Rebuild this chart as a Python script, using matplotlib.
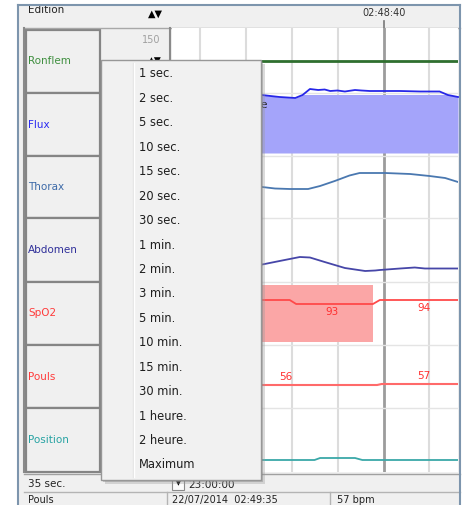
import matplotlib.pyplot as plt
from matplotlib.patches import Rectangle

plt.rcParams['font.family'] = ['DejaVu Sans']

W, H = 463, 505

# Channels
CHANNELS = ['Ronflem', 'Flux', 'Thorax', 'Abdomen', 'SpO2', 'Pouls', 'Position']
LABEL_COLORS = ['#3f8f3f', '#2b2bf2', '#3d6aa8', '#30309a', '#ff3b3b', '#ff3b3b', '#27a3a3']
CHANNEL_YLIM = [(0, 63), (0, 61), (0, 62), (0, 64), (82.75, 98.5), (33, 96), (0, 64)]

MENU_ITEMS = ['1 sec.', '2 sec.', '5 sec.', '10 sec.', '15 sec.', '20 sec.', '30 sec.',
              '1 min.', '2 min.', '3 min.', '5 min.', '10 min.', '15 min.', '30 min.',
              '1 heure.', '2 heure.', 'Maximum']

# time axis: seconds from the left edge of the trace window (02:48:17)
T_WINDOW = 31.1
GRID_T = [3, 8, 13, 18, 23, 28]
CURSOR_T = 23
CURSOR_LABEL = '02:48:40'

# traces
ronflem_t = [0, 31.1]
ronflem_v = [32, 32]

flux_t = [6.0, 9.8, 10.7, 11.7, 13.4, 14.2, 15.0, 15.9, 16.6, 17.2, 18.0, 18.8, 19.9, 20.6,
          21.5, 24.8, 27.0, 29.1, 30.0, 31.1]
flux_v = [61, 61, 60, 59, 58, 61, 67, 66, 66.5, 65, 65.5, 64.5, 66, 65.5, 65, 65, 64.5, 64.5, 61, 59]
FLUX_BASE = 3

thorax_t = [6.0, 9.8, 11.2, 12.8, 14.8, 16.1, 17.7, 19.3, 20.4, 23.2, 25.9, 28.0, 29.7, 31.1]
thorax_v = [31, 31, 29.5, 29, 29, 32, 37, 42.5, 45, 45, 44, 42, 40, 36]

abdomen_t = [6.0, 9.8, 11.7, 13.9, 15.0, 16.6, 18.8, 21.0, 22.1, 22.6, 24.8, 26.4, 27.5, 31.1]
abdomen_v = [16, 17.5, 21, 25, 24.5, 20, 14, 11, 11.5, 12, 13.5, 14.5, 13.5, 13.5]

spo2_t = [6.0, 12.8, 13.5, 21.85, 22.6, 31.1]
spo2_v = [94, 94, 93, 93, 94, 94]
SPO2_EVENT = (6.0, 21.85)
spo2_labels_t = [17.4, 27.4]
spo2_labels = ['93', '94']

pouls_t = [6.0, 22.3, 22.8, 31.1]
pouls_v = [56, 56, 57, 57]
pouls_labels_t = [12.4, 27.4]
pouls_labels = ['56', '57']

position_t = [6.0, 15.5, 16.1, 19.9, 20.7, 31.1]
position_v = [12, 12, 14, 14, 12, 12]

# layout in pixels
ROW_EDGES = [30, 93, 156, 218, 282, 345, 408, 472]
CHART_X0, CHART_X1, CHART_Y0, CHART_Y1 = 172, 458, 28, 472
MENU_BOX = (101, 60, 261, 480)


def px_axes(x0, y0, x1, y1, z):
    ax = fig.add_axes([x0 / W, 1 - y1 / H, (x1 - x0) / W, (y1 - y0) / H], zorder=z)
    ax.set_axis_off()
    return ax


fig = plt.figure(figsize=(W / 100, H / 100), dpi=100)
fig.patch.set_facecolor('white')

# UI chrome
ui = px_axes(0, 0, W, H, 0)
ui.set_xlim(0, W)
ui.set_ylim(H, 0)
ui.add_patch(Rectangle((18, 5), 442, 500, facecolor='#f0f0f0', edgecolor='none'))
ui.text(28, 10, 'Edition', fontsize=7.5, color='#222222', va='center', zorder=2)
ui.add_patch(Rectangle((0, 0), W, 5, facecolor='white', edgecolor='none', zorder=3))
ui.plot([18, 460], [5, 5], color='#7d95ad', lw=1.5, zorder=4)
ui.plot([18, 18], [5, H], color='#7d95ad', lw=1.5, zorder=4)
ui.plot([460, 460], [5, H], color='#7d95ad', lw=1.5, zorder=4)
ui.text(155, 14, '\u25b2\u25bc', fontsize=7, fontweight='bold', ha='center', va='center')
ui.plot([24, 460], [28, 28], color='#a8a8a8', lw=1)
ui.plot([24, 24], [28, 472], color='#8a8a8a', lw=1.5)
ui.text(384, 13, CURSOR_LABEL, fontsize=7, color='#333333', ha='center', va='center')
ui.plot([384, 384], [21, 28], color='#777777', lw=1.2)

for i, name in enumerate(CHANNELS):
    y0, y1 = ROW_EDGES[i], ROW_EDGES[i + 1]
    ui.add_patch(Rectangle((26, y0), 74, y1 - y0, facecolor='#f0f0f0', edgecolor='#858585', lw=1.6))
    ui.text(28, (y0 + y1) / 2, name, fontsize=7.5, color=LABEL_COLORS[i], va='center')
ui.text(160, 40, '150', fontsize=7, color='#a0a0a0', ha='right', va='center')
ui.text(155, 60, '\u25b2\u25bc', fontsize=6.5, fontweight='bold', ha='center', va='center')
ui.plot([170, 170], [28, 472], color='#8a8a8a', lw=1.5)

# bottom status bar
ui.plot([24, 460], [474, 474], color='#a0a0a0', lw=1)
ui.plot([24, 460], [492, 492], color='#b4b4b4', lw=1)
ui.plot([167, 167], [492, H], color='#b4b4b4', lw=1)
ui.plot([330, 330], [492, H], color='#b4b4b4', lw=1)
ui.text(28, 484, '35 sec.', fontsize=7.5, color='#222222', va='center')
ui.add_patch(Rectangle((172, 477), 12, 13, facecolor='#fbfbfb', edgecolor='#8a8a8a', lw=0.8))
ui.text(178, 484, '\u25bc', fontsize=4.5, ha='center', va='center')
ui.text(188, 485, '23:00:00', fontsize=7.5, color='#222222', va='center')
ui.text(28, 495, 'Pouls', fontsize=7, color='#222222', va='top')
ui.text(172, 495, '22/07/2014  02:49:35', fontsize=7, color='#222222', va='top')
ui.text(337, 495, '57 bpm', fontsize=7, color='#222222', va='top')

# chart background with grid
bg = px_axes(CHART_X0, CHART_Y0, CHART_X1, CHART_Y1, 1)
bg.set_axis_on()
bg.set_xticks([])
bg.set_yticks([])
for s in bg.spines.values():
    s.set_visible(False)
bg.set_facecolor('white')
bg.set_xlim(0, T_WINDOW)
bg.set_ylim(CHART_Y1, CHART_Y0)
for t in GRID_T:
    if t == CURSOR_T:
        bg.axvline(t, color='#9c9c9c', lw=2)
    else:
        bg.axvline(t, color='#dcdcdc', lw=1.5)
for y in ROW_EDGES[1:-1]:
    bg.axhline(y, color='#e4e4e4', lw=1)

# channel axes
chan_top = list(ROW_EDGES[:-1])
chan_top[1] = 95
axes = []
for i in range(len(CHANNELS)):
    a = px_axes(CHART_X0, chan_top[i], CHART_X1, ROW_EDGES[i + 1], 2)
    a.set_xlim(0, T_WINDOW)
    a.set_ylim(*CHANNEL_YLIM[i])
    axes.append(a)

axes[0].plot(ronflem_t, ronflem_v, color='#2f6f2f', lw=2)

axes[1].fill_between(flux_t, FLUX_BASE, flux_v, color='#a4a4fa', lw=0)
axes[1].plot(flux_t, flux_v, color='#2626e8', lw=1.3, clip_on=False)
axes[1].text(10.5, 51, 'Apn\u00e9e', fontsize=8, color='#222222', ha='right', va='center')

axes[2].plot(thorax_t, thorax_v, color='#4a78b0', lw=1.3)
axes[3].plot(abdomen_t, abdomen_v, color='#4646a8', lw=1.3)

axes[4].axvspan(*SPO2_EVENT, ymin=0.048, ymax=0.952, color='#fba6a6', lw=0)
axes[4].plot(spo2_t, spo2_v, color='#ff4a4a', lw=1.3)
for t, lab in zip(spo2_labels_t, spo2_labels):
    axes[4].annotate(lab, (t, float(lab)), xytext=(0, -8), textcoords='offset pixels',
                     fontsize=7.5, color='#ff3030', ha='center', va='center')

axes[5].plot(pouls_t, pouls_v, color='#ff6a6a', lw=1.5)
for t, lab in zip(pouls_labels_t, pouls_labels):
    axes[5].annotate(lab, (t, float(lab)), xytext=(0, 8), textcoords='offset pixels',
                     fontsize=7.5, color='#ff3030', ha='center', va='center')

axes[6].plot(position_t, position_v, color='#3aa8a8', lw=1.3)

# dropdown menu
mx0, my0, mx1, my1 = MENU_BOX
menu = px_axes(mx0 - 1, my0 - 1, mx1 + 5, my1 + 5, 5)
menu.set_xlim(mx0 - 1, mx1 + 5)
menu.set_ylim(my1 + 5, my0 - 1)
menu.add_patch(Rectangle((mx0 + 4, my0 + 4), mx1 - mx0, my1 - my0, facecolor='#9a9a9a',
                         edgecolor='none', alpha=0.35))
menu.add_patch(Rectangle((mx0 + 2, my0 + 2), mx1 - mx0, my1 - my0, facecolor='#7a7a7a',
                         edgecolor='none', alpha=0.35))
menu.add_patch(Rectangle((mx0, my0), mx1 - mx0, my1 - my0, facecolor='#f1f1f1',
                         edgecolor='#979797', lw=1))
menu.plot([133, 133], [my0 + 3, my1 - 3], color='#e2e2e2', lw=1)
menu.plot([134, 134], [my0 + 3, my1 - 3], color='#ffffff', lw=1)
step = (465 - 74) / (len(MENU_ITEMS) - 1)
for k, item in enumerate(MENU_ITEMS):
    menu.text(139, 74 + k * step, item, fontsize=8.3, color='#1e1e1e', va='center')

fig.savefig('out.png', dpi=100)
plt.close(fig)
